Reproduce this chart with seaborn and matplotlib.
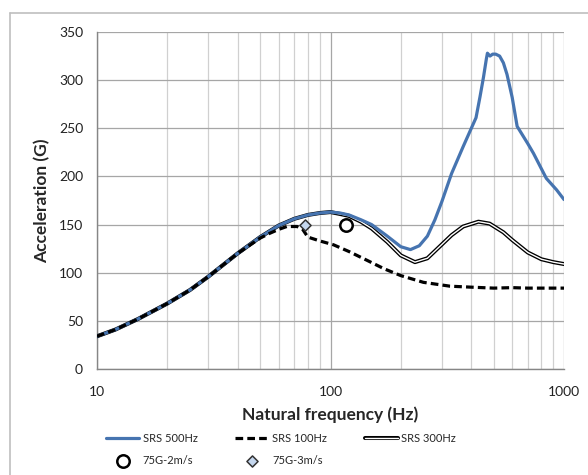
import numpy as np
import pandas as pd
import matplotlib
matplotlib.use('Agg')
import matplotlib.pyplot as plt
import matplotlib.patheffects as pe
from matplotlib.lines import Line2D
from matplotlib.ticker import FixedLocator, LogLocator, NullFormatter
import seaborn as sns

#DATA
####################################################################################################

freq_500 = [10, 12, 15, 20, 25, 30, 40, 50, 60, 70, 80, 90, 100, 110, 120, 135, 150, 175, 200,
            220, 240, 260, 280, 300, 330, 370, 420, 437, 452, 465, 470, 482, 495, 510, 530, 550,
            570, 600, 630, 700, 740, 840, 930, 1000]
srs_500 = [34, 41, 52, 68, 82, 96, 120, 137, 149, 156, 160, 162, 163, 162, 160, 155, 150, 138, 127,
           124, 128, 138, 155, 174, 203, 231, 261, 283, 303, 322, 328, 325, 327, 327, 325, 318,
           306, 282, 252, 234, 224, 198, 186, 176]

freq_300 = [10, 12, 15, 20, 25, 30, 40, 50, 60, 70, 80, 90, 100, 110, 120, 135, 150, 175, 200,
            230, 260, 290, 330, 370, 430, 480, 550, 600, 700, 800, 900, 1000]
srs_300 = [34, 41, 52, 68, 82, 96, 120, 137, 149, 156, 160, 162, 163, 161, 159, 153, 146, 132, 118,
           111, 115, 126, 139, 148, 153, 151, 142, 134, 121, 114, 111, 109]

freq_100 = [10, 12, 15, 20, 25, 30, 40, 50, 55, 60, 65, 72, 76, 80, 90, 103, 120, 143, 170, 200,
            250, 325, 400, 500, 600, 700, 1000]
srs_100 = [34, 41, 52, 68, 82, 96, 120, 136, 141, 145, 148, 148, 145, 137, 133, 129, 122, 113, 104, 97,
           90, 86, 85, 84, 84.5, 84, 84]

pt_2ms_f = [116]
pt_2ms_g = [150]
pt_3ms_f = [78]
pt_3ms_g = [150]

yticks = [0, 50, 100, 150, 200, 250, 300, 350]
xticks = [10, 100, 1000]

#PLOT
####################################################################################################

sns.set_style('white')
plt.rcParams['font.family'] = ['Lato', 'DejaVu Sans']

fig = plt.figure(figsize=(5.88, 4.75), dpi=100)
ax = fig.add_axes([97/588, 1-369/475, (564-97)/588, (369-32)/475])

blue = '#4674b0'
#double line at the bottom, blue over it, dashed on top
sns.lineplot(x=freq_300, y=srs_300, ax=ax, color='white', lw=1.0, label='SRS 300Hz',
             sort=False, estimator=None, zorder=3,
             path_effects=[pe.Stroke(linewidth=2.9, foreground='black'), pe.Normal()])
sns.lineplot(x=freq_500, y=srs_500, ax=ax, color=blue, lw=2.3, label='SRS 500Hz',
             sort=False, estimator=None, zorder=4)
sns.lineplot(x=freq_100, y=srs_100, ax=ax, color='black', lw=2.3, label='SRS 100Hz',
             sort=False, estimator=None, zorder=5)
ax.lines[-1].set_dashes((2.4, 1.3))
sns.scatterplot(x=pt_2ms_f, y=pt_2ms_g, ax=ax, marker='o', s=80, color='white',
                edgecolor='black', linewidth=1.8, label='75G-2m/s', zorder=6)
sns.scatterplot(x=pt_3ms_f, y=pt_3ms_g, ax=ax, marker='D', s=32, color='#c5d7ee',
                edgecolor='#333333', linewidth=1.1, label='75G-3m/s', zorder=6)

ax.set_xscale('log')
ax.set_xlim(10, 1000)
ax.set_ylim(0, 350)
ax.xaxis.set_major_locator(FixedLocator(xticks))
ax.set_xticklabels([str(t) for t in xticks])
ax.xaxis.set_minor_locator(LogLocator(base=10, subs=np.arange(2, 10)))
ax.xaxis.set_minor_formatter(NullFormatter())
ax.set_yticks(yticks)

ax.grid(True, which='major', axis='both', color='#a6a6a6', lw=0.9)
ax.grid(True, which='minor', axis='x', color='#d0d0d0', lw=0.9)
ax.set_axisbelow(True)
for s in ['top', 'right']:
    ax.spines[s].set_visible(False)
for s in ['left', 'bottom']:
    ax.spines[s].set_color('#868686')
    ax.spines[s].set_linewidth(1.0)
ax.tick_params(axis='both', which='major', labelsize=10, color='#868686', length=4,
               width=0.8, labelcolor='#222222')
ax.tick_params(axis='x', which='major', pad=8)
ax.tick_params(axis='x', which='minor', length=0)
ax.tick_params(axis='y', pad=6)

ax.set_xlabel('Natural frequency (Hz)', fontsize=12.5, fontweight='bold', labelpad=6)
ax.set_ylabel('Acceleration (G)', fontsize=12.5, fontweight='bold', labelpad=6)

#Legend in rows: reorder handles for column filling
ax.get_legend().remove()
handles, labels = ax.get_legend_handles_labels()
order = {l: h for h, l in zip(handles, labels)}
seq = ['SRS 500Hz', '75G-2m/s', 'SRS 100Hz', '75G-3m/s', 'SRS 300Hz']
fig.legend([order[l] for l in seq], seq, loc='center', bbox_to_anchor=(0.478, 0.053),
           ncol=3, frameon=False, fontsize=8, handlelength=3.0, handletextpad=0.3,
           columnspacing=3.4, labelspacing=1.0)

#Chart area border
fig.add_artist(Line2D([10/588, 10/588], [0, 1-13/475], transform=fig.transFigure,
                      color='#bfbfbf', lw=1.2))
fig.add_artist(Line2D([10/588, 1], [1-13/475, 1-13/475], transform=fig.transFigure,
                      color='#bfbfbf', lw=1.2))

fig.savefig('out.png', dpi=100)
